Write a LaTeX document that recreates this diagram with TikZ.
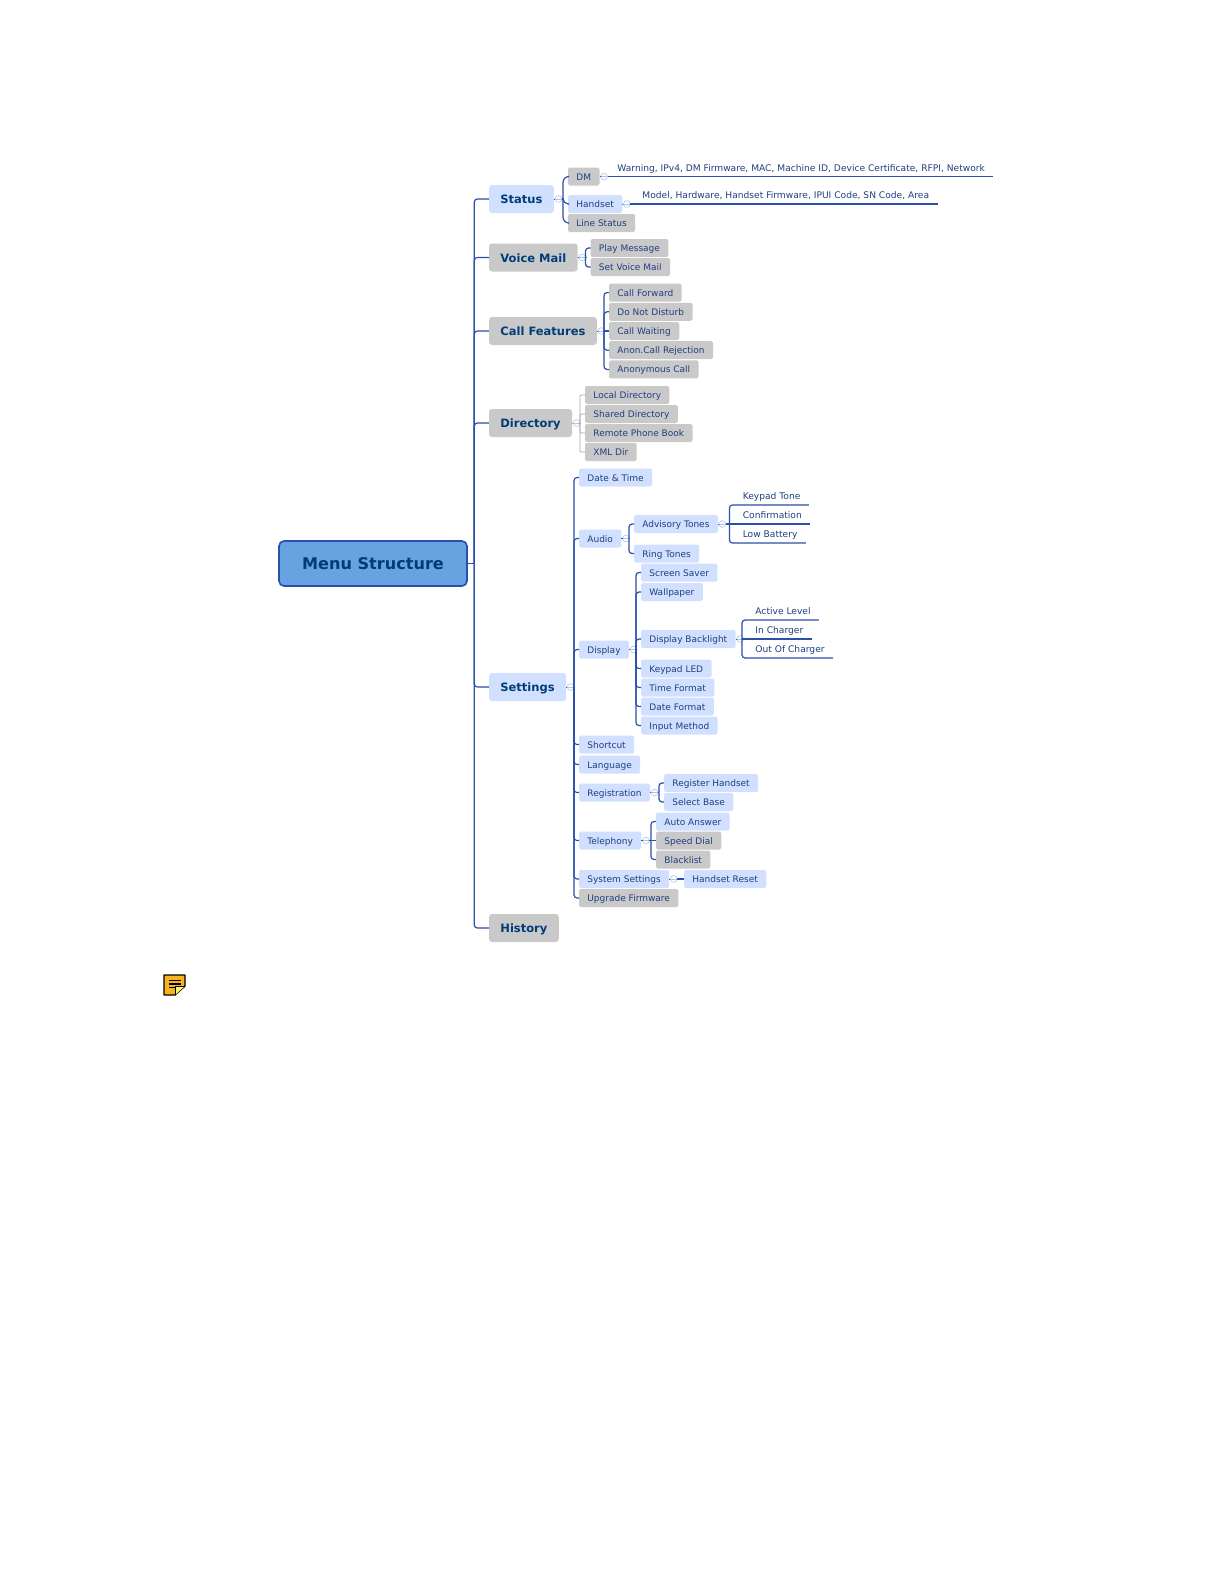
\documentclass[tikz,border=0pt]{standalone}
\usepackage{fontspec}
\setmainfont{DejaVu Sans}
\usetikzlibrary{arrows.meta,positioning,calc}
\definecolor{linkblue}{HTML}{2A50A8}
\definecolor{inkblue}{HTML}{1F3F80}
\definecolor{topicblue}{HTML}{003C78}
\definecolor{paleblue}{HTML}{D2E0FF}
\definecolor{palegrey}{HTML}{C9C9C9}
\definecolor{rootblue}{HTML}{66A3E0}
\definecolor{foldblue}{HTML}{AFC4E6}
\definecolor{linkgrey}{HTML}{A8A8A8}
\definecolor{notegold}{HTML}{F6B221}
\tikzset{
rootbox/.style={draw=linkblue,line width=.8pt,fill=rootblue,rounded corners=2.5pt,minimum width=94pt,minimum height=22.5pt,inner sep=0pt,font=\bfseries\fontsize{8.05}{10}\selectfont,text=topicblue},
topic/.style={rounded corners=1.5pt,minimum height=14pt,inner xsep=5.7pt,inner ysep=0pt,outer sep=0pt,text height=5.4pt,text depth=.6pt,font=\bfseries\fontsize{5.75}{8}\selectfont,text=topicblue},
item/.style={rounded corners=.8pt,minimum height=9pt,inner xsep=4.2pt,inner ysep=0pt,outer sep=0pt,text height=4.2pt,text depth=.7pt,font=\fontsize{4.5}{6}\selectfont,text=inkblue},
leaf/.style={item,font=\fontsize{4.56}{6}\selectfont},
bluefill/.style={fill=paleblue},
greyfill/.style={fill=palegrey},
fold/.style={circle,draw=foldblue,line width=.3pt,minimum size=3.4pt,inner sep=0pt,outer sep=0pt,right=.6pt of #1,path picture={\draw[foldblue,line width=.3pt](path picture bounding box.west)--(path picture bounding box.east);}},
branch/.style={linkblue,line width=.6pt,rounded corners=1.5pt},
greybranch/.style={linkgrey,line width=.4pt,rounded corners=.5pt}
}
\begin{document}
\begin{tikzpicture}[x=1pt,y=-1pt]
\useasboundingbox(0,0)rectangle(612,792);
\node[rootbox](menu)at(186.5,281.75){Menu Structure};
% first level
\node[topic,bluefill,anchor=west](status)at(244.5,99.5){Status};
\node[topic,greyfill,below=15.25pt of status.south west,anchor=north west](voice){Voice Mail};
\node[topic,greyfill,below=22.75pt of voice.south west,anchor=north west](call){Call Features};
\node[topic,greyfill,below=32pt of call.south west,anchor=north west](directory){Directory};
\node[topic,bluefill,below=118pt of directory.south west,anchor=north west](settings){Settings};
\node[topic,greyfill,below=106.5pt of settings.south west,anchor=north west](history){History};
% status
\node[item,greyfill,right=39.5pt of status.west,yshift=11.25pt](dm){DM};
\node[item,bluefill,below=4.75pt of dm.south west,anchor=north west](handset){Handset};
\node[item,greyfill,below=.5pt of handset.south west,anchor=north west](linestatus){Line Status};
\node[leaf,right=20.5pt of dm.west,yshift=4.5pt](warning){Warning, IPv4, DM Firmware, MAC, Machine ID, Device Certificate, RFPI, Network};
\node[leaf,right=33pt of handset.west,yshift=4.5pt](model){Model, Hardware, Handset Firmware, IPUI Code, SN Code, Area};
% voice mail
\node[item,greyfill,right=50.75pt of voice.west,yshift=4.75pt](play){Play Message};
\node[item,greyfill,below=.5pt of play.south west,anchor=north west](setvoice){Set Voice Mail};
% call features
\node[item,greyfill,right=60pt of call.west,yshift=19.2pt](forward){Call Forward};
\node[item,greyfill,below=.6pt of forward.south west,anchor=north west](disturb){Do Not Disturb};
\node[item,greyfill,below=.6pt of disturb.south west,anchor=north west](waiting){Call Waiting};
\node[item,greyfill,below=.6pt of waiting.south west,anchor=north west](rejection){Anon.Call Rejection};
\node[item,greyfill,below=.6pt of rejection.south west,anchor=north west](anonymous){Anonymous Call};
% directory
\node[item,greyfill,right=48pt of directory.west,yshift=14pt](localdir){Local Directory};
\node[item,greyfill,below=.5pt of localdir.south west,anchor=north west](shareddir){Shared Directory};
\node[item,greyfill,below=.5pt of shareddir.south west,anchor=north west](remotedir){Remote Phone Book};
\node[item,greyfill,below=.5pt of remotedir.south west,anchor=north west](xmldir){XML Dir};
% settings
\node[item,bluefill,right=45pt of settings.west,yshift=104.75pt](datetime){Date \& Time};
\node[item,bluefill,below=21.5pt of datetime.south west,anchor=north west](audio){Audio};
\node[item,bluefill,below=46.5pt of audio.south west,anchor=north west](display){Display};
\node[item,bluefill,below=38.5pt of display.south west,anchor=north west](shortcut){Shortcut};
\node[item,bluefill,below=1pt of shortcut.south west,anchor=north west](language){Language};
\node[item,bluefill,below=5pt of language.south west,anchor=north west](registration){Registration};
\node[item,bluefill,below=15pt of registration.south west,anchor=north west](telephony){Telephony};
\node[item,bluefill,below=10.25pt of telephony.south west,anchor=north west](system){System Settings};
\node[item,greyfill,below=.5pt of system.south west,anchor=north west](upgrade){Upgrade Firmware};
% audio
\node[item,bluefill,right=27.5pt of audio.west,yshift=7.25pt](advisory){Advisory Tones};
\node[item,bluefill,below=5.75pt of advisory.south west,anchor=north west](ring){Ring Tones};
\node[leaf,right=50.2pt of advisory.west,yshift=14pt](keypadtone){Keypad Tone};
\node[leaf,below=.5pt of keypadtone.south west,anchor=north west](confirmation){Confirmation};
\node[leaf,below=.5pt of confirmation.south west,anchor=north west](lowbattery){Low Battery};
% display
\node[item,bluefill,right=31pt of display.west,yshift=38.5pt](saver){Screen Saver};
\node[item,bluefill,below=.75pt of saver.south west,anchor=north west](wallpaper){Wallpaper};
\node[item,bluefill,below=14.5pt of wallpaper.south west,anchor=north west](backlight){Display Backlight};
\node[item,bluefill,below=5.75pt of backlight.south west,anchor=north west](keypadled){Keypad LED};
\node[item,bluefill,below=.5pt of keypadled.south west,anchor=north west](timeformat){Time Format};
\node[item,bluefill,below=.5pt of timeformat.south west,anchor=north west](dateformat){Date Format};
\node[item,bluefill,below=.5pt of dateformat.south west,anchor=north west](inputmethod){Input Method};
\node[leaf,right=53pt of backlight.west,yshift=14pt](activelevel){Active Level};
\node[leaf,below=.5pt of activelevel.south west,anchor=north west](incharger){In Charger};
\node[leaf,below=.5pt of incharger.south west,anchor=north west](outcharger){Out Of Charger};
% registration, telephony, system
\node[item,bluefill,right=42.5pt of registration.west,yshift=4.75pt](register){Register Handset};
\node[item,bluefill,below=.5pt of register.south west,anchor=north west](selectbase){Select Base};
\node[item,bluefill,right=38.5pt of telephony.west,yshift=9.5pt](autoanswer){Auto Answer};
\node[item,greyfill,below=.5pt of autoanswer.south west,anchor=north west](speeddial){Speed Dial};
\node[item,greyfill,below=.5pt of speeddial.south west,anchor=north west](blacklist){Blacklist};
\node[item,bluefill,right=52.5pt of system.west](reset){Handset Reset};
% fold marks
\foreach \boss in {status,voice,call,directory,settings,dm,handset,audio,advisory,display,backlight,registration,telephony,system}
  \node[fold=\boss](\boss c){};
\coordinate(menuc)at(menu.east);
% junctions
\coordinate[right=3.25pt of menu.east](menuj);
\foreach \boss/\kid in {status/dm,voice/play,call/forward,directory/localdir,settings/datetime,audio/advisory,advisory/keypadtone,display/saver,backlight/activelevel,registration/register,telephony/autoanswer}
  \coordinate[left=2.5pt of \kid.west](\boss j);
% stubs
\foreach \boss in {status,voice,call,settings,dm,handset,audio,advisory,display,backlight,registration,telephony,system}
  \draw[linkblue,line width=.5pt](\boss.east)--(\boss c.west);
\draw[greybranch](directory.east)--(directoryc.west);
% connectors
\foreach \boss/\kid in {menu/status,menu/voice,menu/call,menu/directory,menu/settings,menu/history,
  voice/play,voice/setvoice,
  call/forward,call/disturb,call/rejection,call/anonymous,
  settings/datetime,settings/audio,settings/display,settings/shortcut,settings/language,settings/registration,settings/telephony,settings/system,settings/upgrade,
  audio/advisory,audio/ring,display/saver,display/wallpaper,display/backlight,display/keypadled,display/timeformat,display/dateformat,display/inputmethod,
  registration/register,registration/selectbase,telephony/autoanswer,telephony/blacklist}{
  \draw[branch](\boss c.east)--(\boss c.east-|\boss j);
  \draw[branch](\boss c.east-|\boss j)|-(\kid.west);
}
\foreach \kid in {dm,handset,linestatus}{
  \draw[branch](statusc.east)--(statusc.east-|statusj);
  \draw[branch,rounded corners=3pt](statusc.east-|statusj)|-(\kid.west);
}
\foreach \kid in {localdir,shareddir,remotedir,xmldir}{
  \draw[greybranch](directoryc.east)--(directoryc.east-|directoryj);
  \draw[greybranch](directoryc.east-|directoryj)|-(\kid.west);
}
\foreach \boss/\kid in {advisory/keypadtone,advisory/lowbattery,backlight/activelevel,backlight/outcharger}{
  \draw[branch](\boss c.east)--(\boss c.east-|\boss j);
  \draw[branch](\boss c.east-|\boss j)|-(\kid.south east);
}
\draw[branch](callc.east)--(waiting.west);
\draw[branch](telephonyc.east)--(speeddial.west);
\draw[branch](systemc.east)--(reset.west);
\draw[branch](advisoryc.east)--(confirmation.south east);
\draw[branch,line width=.9pt](backlightc.east)--(incharger.south east);
\draw[branch](dmc.east)--(warning.south east);
\draw[branch](handsetc.east)--(model.south east);
% note icon
\draw[fill=notegold,line width=.7pt,line join=round,draw=black](82,487.5)--(92.5,487.5)--(92.5,493)--(87.5,497.5)--(82,497.5)--cycle;
\draw[draw=black,line width=.5pt,fill=yellow!60](87.5,497.5)--(87.5,493)--(92.5,493);
\draw[black,line width=.6pt](84.5,490.2)--(90.5,490.2)(84.5,492)--(90.5,492)(84.5,493.8)--(88,493.8);
\end{tikzpicture}
\end{document}
